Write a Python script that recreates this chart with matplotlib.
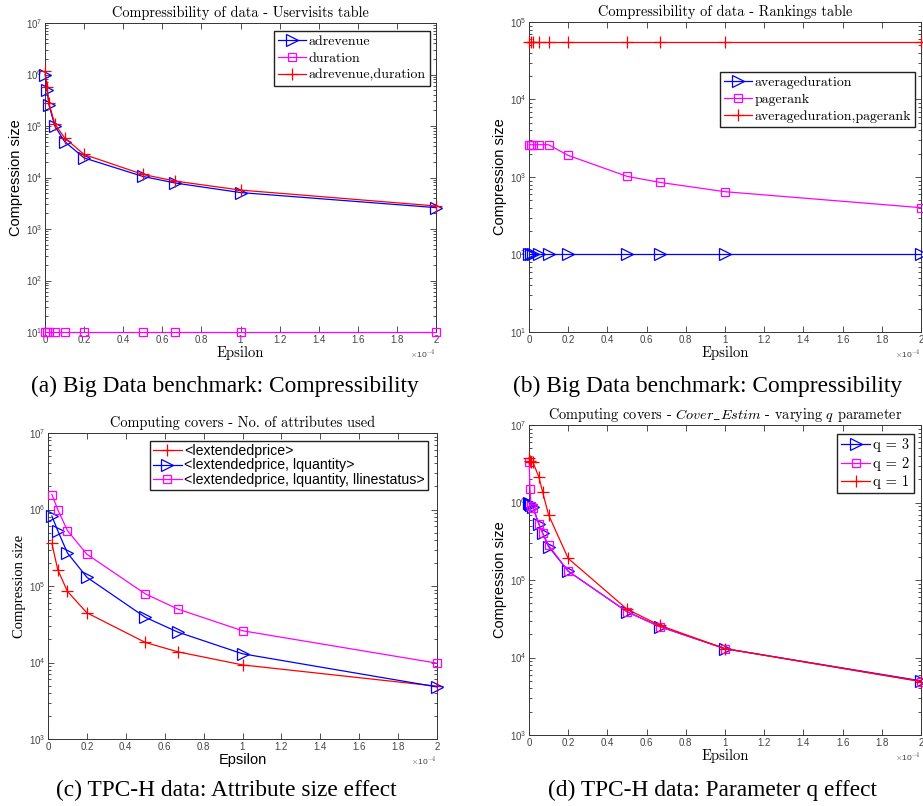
import numpy as np
import matplotlib
matplotlib.use("Agg")
import matplotlib.pyplot as plt
from matplotlib.ticker import FuncFormatter, LogLocator, NullFormatter

plt.rcParams['font.family'] = 'Liberation Sans'
plt.rcParams['mathtext.fontset'] = 'cm'
plt.rcParams['axes.formatter.use_mathtext'] = True

# ---------------- data (epsilon in units of 1e-4) ----------------
# (a) Uservisits table
eps_a = [0.001, 0.01, 0.02, 0.05, 0.1, 0.2, 0.5, 0.667, 1, 2]
adrevenue = [1.0e6, 5.1e5, 2.6e5, 1.0e5, 5.0e4, 2.4e4, 1.05e4, 7.8e3, 5.1e3, 2.6e3]
duration = [10, 10, 10, 10, 10, 10, 10, 10, 10, 10]
adrev_dur = [1.15e6, 5.7e5, 2.8e5, 1.1e5, 5.9e4, 2.8e4, 1.15e4, 8.5e3, 5.7e3, 2.8e3]

# (b) Rankings table
eps_b = [0.001, 0.01, 0.02, 0.05, 0.1, 0.2, 0.5, 0.667, 1, 2]
avgdur = [100, 100, 100, 100, 100, 100, 100, 100, 100, 100]
pagerank = [2610, 2610, 2610, 2610, 2610, 1900, 1020, 853, 646, 402]
avgdur_pr = [55200, 55200, 55200, 55200, 55200, 55200, 55200, 55200, 55200, 55200]

# (c) TPC-H attribute size
eps_c = [0.02, 0.05, 0.1, 0.2, 0.5, 0.667, 1, 2]
attr1 = [3.6e5, 1.64e5, 8.5e4, 4.46e4, 1.83e4, 1.38e4, 9.3e3, 4.9e3]
attr2 = [8.2e5, 5.3e5, 2.7e5, 1.3e5, 3.9e4, 2.5e4, 1.3e4, 4.8e3]
attr3 = [1.57e6, 1.0e6, 5.3e5, 2.6e5, 7.9e4, 5.0e4, 2.6e4, 9.8e3]

# (d) TPC-H parameter q
eps_d = [0.001, 0.005, 0.01, 0.02, 0.05, 0.07, 0.1, 0.2, 0.5, 0.667, 1, 2]
q3 = [1.0e6, 9.5e5, 9.2e5, 8.8e5, 5.3e5, 4.0e5, 2.7e5, 1.3e5, 3.9e4, 2.5e4, 1.3e4, 5.0e3]
q2 = [3.3e6, 1.5e6, 9.0e5, 8.5e5, 5.3e5, 4.0e5, 2.8e5, 1.3e5, 3.9e4, 2.5e4, 1.3e4, 4.9e3]
q1 = [3.8e6, 3.4e6, 3.3e6, 3.3e6, 2.15e6, 1.35e6, 6.9e5, 1.9e5, 4.2e4, 2.6e4, 1.3e4, 4.9e3]

BLUE, MAG, RED = '#0000ff', '#ff00ff', '#ff0000'
CM = 'cmr10'
SERIF = 'Liberation Serif'

W, H = 923, 806
fig = plt.figure(figsize=(W / 100, H / 100), dpi=100)


def rect(l, t, r, b):
    return [l / W, 1 - b / H, (r - l) / W, (b - t) / H]


def style(ax, ylim):
    ax.set_yscale('log')
    ax.set_xlim(0, 2)
    ax.set_ylim(*ylim)
    ax.set_xticks(np.arange(0, 2.01, 0.2))
    ax.xaxis.set_major_formatter(FuncFormatter(lambda v, p: '%g' % round(v, 2)))
    ax.yaxis.set_major_locator(LogLocator(base=10, numticks=10))
    ax.yaxis.set_minor_locator(LogLocator(base=10, subs=np.arange(2, 10), numticks=10))
    ax.yaxis.set_minor_formatter(NullFormatter())
    ax.tick_params(which='both', direction='in', top=True, right=True,
                   colors='#333333', labelcolor='#444444', width=0.6)
    ax.tick_params(which='major', length=4, labelsize=7, pad=2)
    ax.tick_params(which='minor', length=2)
    for s in ax.spines.values():
        s.set_color('#333333')
        s.set_linewidth(0.7)
    ax.text(1.0, -0.05, r'$\times$10$^{-4}$', transform=ax.transAxes, ha='right',
            va='top', fontsize=6, color='#444444')


def plot_line(ax, x, y, color, marker, label, ms):
    ax.plot(x, y, color=color, marker=marker, markersize=ms, markerfacecolor='none',
            markeredgecolor=color, markeredgewidth=0.9, linewidth=0.9, label=label,
            clip_on=False, zorder=3)


leg_kw = dict(frameon=True, fancybox=False, edgecolor='#222222', framealpha=1,
              handlelength=2.0, handletextpad=0.2, borderaxespad=0)

# ---------------- (a) ----------------
ax = fig.add_axes(rect(45, 23, 436, 332))
plot_line(ax, eps_a, adrevenue, BLUE, '>', 'adrevenue', 8.5)
plot_line(ax, eps_a, duration, MAG, 's', 'duration', 5.5)
plot_line(ax, eps_a, adrev_dur, RED, '+', 'adrevenue,duration', 8.5)
style(ax, (1e1, 1e7))
ax.set_title('Compressibility of data - Uservisits table', family=CM, fontsize=10.3, pad=4)
ax.set_xlabel('Epsilon', family=CM, fontsize=10.5, labelpad=1)
ax.set_ylabel('Compression size', fontsize=10.5, labelpad=2)
ax.legend(loc='upper right', bbox_to_anchor=(0.985, 0.975), prop={'family': CM, 'size': 10},
          labelspacing=0.3, borderpad=0.3, **leg_kw)

# ---------------- (b) ----------------
ax = fig.add_axes(rect(529, 22, 921, 332))
plot_line(ax, eps_b, avgdur, BLUE, '>', 'averageduration', 8.5)
plot_line(ax, eps_b, pagerank, MAG, 's', 'pagerank', 5.5)
plot_line(ax, eps_b, avgdur_pr, RED, '+', 'averageduration,pagerank', 8.5)
style(ax, (1e1, 1e5))
ax.set_title('Compressibility of data - Rankings table', family=CM, fontsize=10.3, pad=4)
ax.set_xlabel('Epsilon', family=CM, fontsize=10.5, labelpad=1)
ax.set_ylabel('Compression size', fontsize=10.5, labelpad=2)
ax.legend(loc='upper right', bbox_to_anchor=(0.985, 0.839), prop={'family': CM, 'size': 10},
          labelspacing=0.3, borderpad=0.3, **leg_kw)

# ---------------- (c) ----------------
ax = fig.add_axes(rect(48, 433, 437, 739))
plot_line(ax, eps_c, attr1, RED, '+', '<lextendedprice>', 8.5)
plot_line(ax, eps_c, attr2, BLUE, '>', '<lextendedprice, lquantity>', 8.5)
plot_line(ax, eps_c, attr3, MAG, 's', '<lextendedprice, lquantity, llinestatus>', 5.5)
style(ax, (1e3, 1e7))
ax.set_title('Computing covers - No. of attributes used', family=CM, fontsize=10.4, pad=4)
ax.set_xlabel('Epsilon', fontsize=10.5, labelpad=1)
ax.set_ylabel('Compression size', family=SERIF, fontsize=10.5, labelpad=2)
ax.legend(loc='upper right', bbox_to_anchor=(0.977, 0.974), prop={'size': 10.2},
          labelspacing=0.05, borderpad=0.2, **leg_kw)

# ---------------- (d) ----------------
ax = fig.add_axes(rect(529, 425, 921, 735))
plot_line(ax, eps_d, q3, BLUE, '>', 'q = 3', 8.5)
plot_line(ax, eps_d, q2, MAG, 's', 'q = 2', 5.5)
plot_line(ax, eps_d, q1, RED, '+', 'q = 1', 8.5)
style(ax, (1e3, 1e7))
ax.set_title(r'Computing covers - $Cover\_Estim$ - varying $q$ parameter', family=CM,
             fontsize=10.3, pad=4)
ax.set_xlabel('Epsilon', family=CM, fontsize=10.5, labelpad=1)
ax.set_ylabel('Compression size', fontsize=10.5, labelpad=2)
ax.legend(loc='upper right', bbox_to_anchor=(0.982, 0.971), prop={'family': CM, 'size': 10.5},
          labelspacing=0.3, borderpad=0.3, **leg_kw)

# ---------------- captions ----------------
cap = dict(family=SERIF, fontsize=16.8, ha='center', va='center')
fig.text(225 / W, 1 - 386 / H, '(a) Big Data benchmark: Compressibility', **cap)
fig.text(708 / W, 1 - 386 / H, '(b) Big Data benchmark: Compressibility', **cap)
fig.text(226 / W, 1 - 790 / H, '(c) TPC-H data: Attribute size effect', **cap)
fig.text(713 / W, 1 - 790 / H, '(d) TPC-H data: Parameter q effect', **cap)

fig.savefig('out.png', dpi=100)
